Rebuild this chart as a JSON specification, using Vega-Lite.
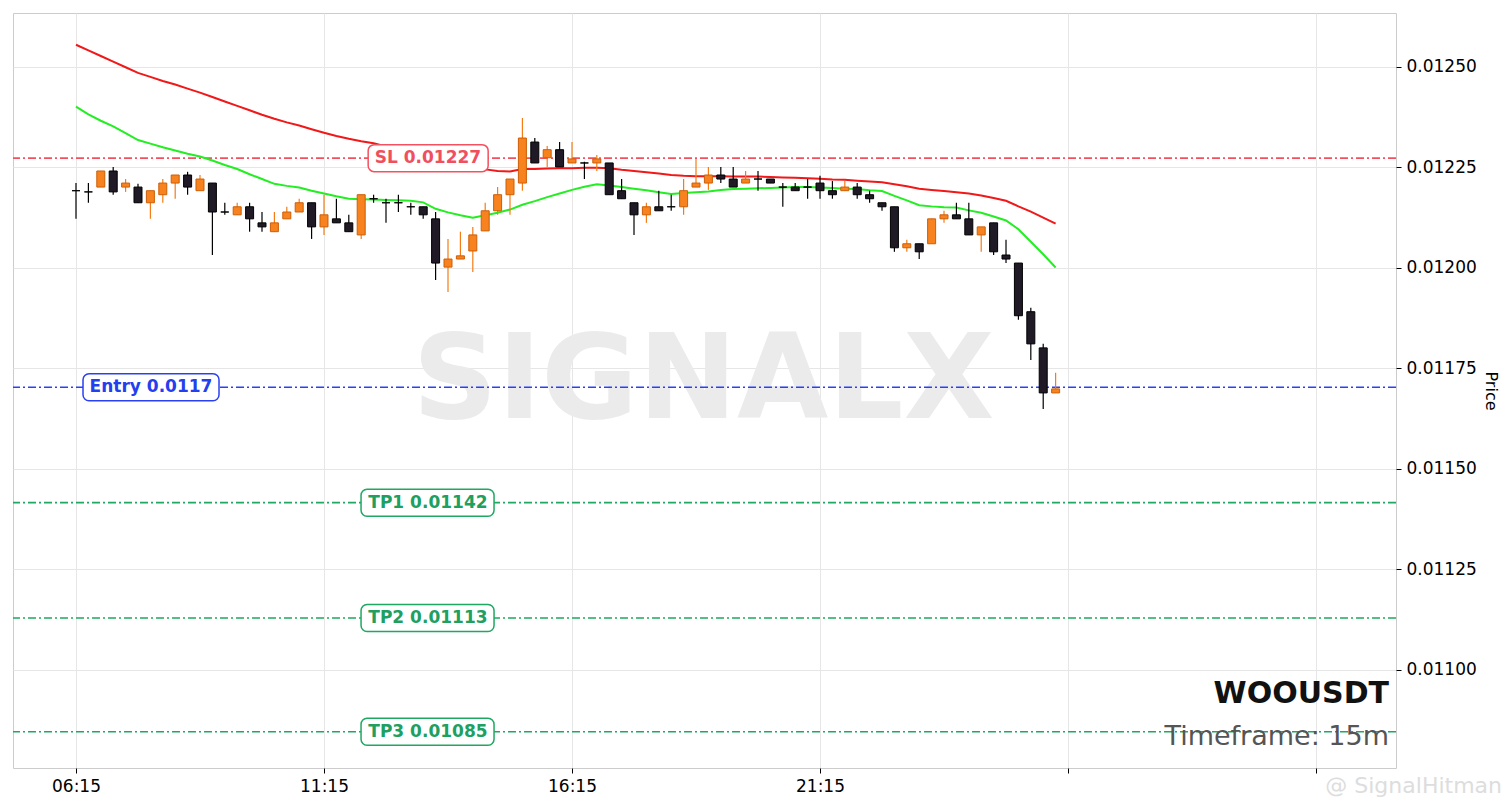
{
  "$schema": "https://vega.github.io/schema/vega-lite/v6.json",
  "width": 1383,
  "height": 755,
  "padding": {"left": 12, "top": 13, "right": 5, "bottom": 5},
  "background": "white",
  "config": {
    "font": "DejaVu Sans",
    "view": {"stroke": "#cccccc", "strokeWidth": 1},
    "scale": {"continuousPadding": 0},
    "axis": {
      "gridColor": "#e6e6e6",
      "gridWidth": 1,
      "domain": false,
      "tickColor": "#000000",
      "tickSize": 5,
      "labelFont": "DejaVu Sans",
      "labelFontSize": 17,
      "labelColor": "#000000",
      "titleFont": "DejaVu Sans",
      "titleFontSize": 16,
      "titleFontWeight": "normal",
      "titleColor": "#000000"
    }
  },
  "datasets": {
    "candles": [
      {"i": 0, "o": 0.012192, "h": 0.012211, "l": 0.012122, "c": 0.012192, "s": 0.012555, "f": 0.012401},
      {"i": 1, "o": 0.012189, "h": 0.012211, "l": 0.012162, "c": 0.012189, "s": 0.012541, "f": 0.012382},
      {"i": 2, "o": 0.012201, "h": 0.012241, "l": 0.012201, "c": 0.012241, "s": 0.012527, "f": 0.012366},
      {"i": 3, "o": 0.012241, "h": 0.012251, "l": 0.012182, "c": 0.012189, "s": 0.012513, "f": 0.012352},
      {"i": 4, "o": 0.012201, "h": 0.012221, "l": 0.012189, "c": 0.012211, "s": 0.012499, "f": 0.012335},
      {"i": 5, "o": 0.012201, "h": 0.012209, "l": 0.012162, "c": 0.012162, "s": 0.012485, "f": 0.012318},
      {"i": 6, "o": 0.012162, "h": 0.012192, "l": 0.012122, "c": 0.012192, "s": 0.012475, "f": 0.012309},
      {"i": 7, "o": 0.012182, "h": 0.012221, "l": 0.012162, "c": 0.012211, "s": 0.012465, "f": 0.0123},
      {"i": 8, "o": 0.012211, "h": 0.012231, "l": 0.012172, "c": 0.012231, "s": 0.012456, "f": 0.012292},
      {"i": 9, "o": 0.012231, "h": 0.012239, "l": 0.012182, "c": 0.012201, "s": 0.012446, "f": 0.012284},
      {"i": 10, "o": 0.012192, "h": 0.012231, "l": 0.012192, "c": 0.012221, "s": 0.012436, "f": 0.012277},
      {"i": 11, "o": 0.012211, "h": 0.012211, "l": 0.012032, "c": 0.012139, "s": 0.012425, "f": 0.012267},
      {"i": 12, "o": 0.012139, "h": 0.012162, "l": 0.012132, "c": 0.012139, "s": 0.012414, "f": 0.012256},
      {"i": 13, "o": 0.012132, "h": 0.012162, "l": 0.012132, "c": 0.012152, "s": 0.012403, "f": 0.012246},
      {"i": 14, "o": 0.012152, "h": 0.012162, "l": 0.01209, "c": 0.012122, "s": 0.012392, "f": 0.012233},
      {"i": 15, "o": 0.012112, "h": 0.012139, "l": 0.01209, "c": 0.012102, "s": 0.012381, "f": 0.012221},
      {"i": 16, "o": 0.01209, "h": 0.012139, "l": 0.01209, "c": 0.012112, "s": 0.012371, "f": 0.012209},
      {"i": 17, "o": 0.012122, "h": 0.012152, "l": 0.012122, "c": 0.012139, "s": 0.012362, "f": 0.012204},
      {"i": 18, "o": 0.012139, "h": 0.012172, "l": 0.012139, "c": 0.012162, "s": 0.012354, "f": 0.0122},
      {"i": 19, "o": 0.012162, "h": 0.012162, "l": 0.012072, "c": 0.012102, "s": 0.012345, "f": 0.012192},
      {"i": 20, "o": 0.012102, "h": 0.012182, "l": 0.012082, "c": 0.012132, "s": 0.012336, "f": 0.012185},
      {"i": 21, "o": 0.012122, "h": 0.012172, "l": 0.012112, "c": 0.012112, "s": 0.012328, "f": 0.012178},
      {"i": 22, "o": 0.012112, "h": 0.012132, "l": 0.01209, "c": 0.01209, "s": 0.012321, "f": 0.012172},
      {"i": 23, "o": 0.012082, "h": 0.012182, "l": 0.012072, "c": 0.012182, "s": 0.012315, "f": 0.012171},
      {"i": 24, "o": 0.012172, "h": 0.012182, "l": 0.012162, "c": 0.012172, "s": 0.01231, "f": 0.01217},
      {"i": 25, "o": 0.012162, "h": 0.012172, "l": 0.012112, "c": 0.012162, "s": 0.012302, "f": 0.012169},
      {"i": 26, "o": 0.012162, "h": 0.012182, "l": 0.012139, "c": 0.012162, "s": 0.012295, "f": 0.012168},
      {"i": 27, "o": 0.012152, "h": 0.012162, "l": 0.012132, "c": 0.012152, "s": 0.012287, "f": 0.012167},
      {"i": 28, "o": 0.012152, "h": 0.012152, "l": 0.012122, "c": 0.012132, "s": 0.01228, "f": 0.012163},
      {"i": 29, "o": 0.012122, "h": 0.012139, "l": 0.01197, "c": 0.012012, "s": 0.012272, "f": 0.012147},
      {"i": 30, "o": 0.012002, "h": 0.012072, "l": 0.01194, "c": 0.012022, "s": 0.012265, "f": 0.012138},
      {"i": 31, "o": 0.012022, "h": 0.01209, "l": 0.012022, "c": 0.01203, "s": 0.012257, "f": 0.012131},
      {"i": 32, "o": 0.012042, "h": 0.012102, "l": 0.01199, "c": 0.012082, "s": 0.012251, "f": 0.012125},
      {"i": 33, "o": 0.012092, "h": 0.012162, "l": 0.012092, "c": 0.012142, "s": 0.012245, "f": 0.012131},
      {"i": 34, "o": 0.012142, "h": 0.012201, "l": 0.012132, "c": 0.012182, "s": 0.012241, "f": 0.012137},
      {"i": 35, "o": 0.012182, "h": 0.012221, "l": 0.012132, "c": 0.012221, "s": 0.01224, "f": 0.012145},
      {"i": 36, "o": 0.012211, "h": 0.012373, "l": 0.012192, "c": 0.012323, "s": 0.012246, "f": 0.012157},
      {"i": 37, "o": 0.012313, "h": 0.012323, "l": 0.012261, "c": 0.012261, "s": 0.012246, "f": 0.012166},
      {"i": 38, "o": 0.012274, "h": 0.012303, "l": 0.012251, "c": 0.012294, "s": 0.012247, "f": 0.012176},
      {"i": 39, "o": 0.012294, "h": 0.012313, "l": 0.012251, "c": 0.012251, "s": 0.012248, "f": 0.012185},
      {"i": 40, "o": 0.012261, "h": 0.012313, "l": 0.012261, "c": 0.012271, "s": 0.012248, "f": 0.012194},
      {"i": 41, "o": 0.012261, "h": 0.012264, "l": 0.012221, "c": 0.012261, "s": 0.012249, "f": 0.012202},
      {"i": 42, "o": 0.012261, "h": 0.012281, "l": 0.012241, "c": 0.012271, "s": 0.012249, "f": 0.012208},
      {"i": 43, "o": 0.012261, "h": 0.012261, "l": 0.012182, "c": 0.012182, "s": 0.012248, "f": 0.012205},
      {"i": 44, "o": 0.012192, "h": 0.012221, "l": 0.012172, "c": 0.012172, "s": 0.012244, "f": 0.012201},
      {"i": 45, "o": 0.012162, "h": 0.012162, "l": 0.012082, "c": 0.012132, "s": 0.012241, "f": 0.012197},
      {"i": 46, "o": 0.012132, "h": 0.012162, "l": 0.012112, "c": 0.012152, "s": 0.012238, "f": 0.012193},
      {"i": 47, "o": 0.012152, "h": 0.012192, "l": 0.012142, "c": 0.012142, "s": 0.012235, "f": 0.012188},
      {"i": 48, "o": 0.012152, "h": 0.012182, "l": 0.012142, "c": 0.012152, "s": 0.012231, "f": 0.012184},
      {"i": 49, "o": 0.012152, "h": 0.012221, "l": 0.012132, "c": 0.012192, "s": 0.012229, "f": 0.012186},
      {"i": 50, "o": 0.012201, "h": 0.012271, "l": 0.012201, "c": 0.012211, "s": 0.012228, "f": 0.012188},
      {"i": 51, "o": 0.012211, "h": 0.012251, "l": 0.012194, "c": 0.012231, "s": 0.012228, "f": 0.01219},
      {"i": 52, "o": 0.012231, "h": 0.012251, "l": 0.012211, "c": 0.012221, "s": 0.012228, "f": 0.012194},
      {"i": 53, "o": 0.012221, "h": 0.012251, "l": 0.012201, "c": 0.012201, "s": 0.012227, "f": 0.012196},
      {"i": 54, "o": 0.012211, "h": 0.012241, "l": 0.012211, "c": 0.012221, "s": 0.012227, "f": 0.012197},
      {"i": 55, "o": 0.012221, "h": 0.012241, "l": 0.012192, "c": 0.012221, "s": 0.012227, "f": 0.012198},
      {"i": 56, "o": 0.012221, "h": 0.012221, "l": 0.012211, "c": 0.012211, "s": 0.012226, "f": 0.012199},
      {"i": 57, "o": 0.012201, "h": 0.012211, "l": 0.012152, "c": 0.012201, "s": 0.012225, "f": 0.0122},
      {"i": 58, "o": 0.012201, "h": 0.012211, "l": 0.012192, "c": 0.012192, "s": 0.012224, "f": 0.012201},
      {"i": 59, "o": 0.012201, "h": 0.012221, "l": 0.012172, "c": 0.012201, "s": 0.012223, "f": 0.012201},
      {"i": 60, "o": 0.012211, "h": 0.012229, "l": 0.012172, "c": 0.012192, "s": 0.012222, "f": 0.0122},
      {"i": 61, "o": 0.012192, "h": 0.012216, "l": 0.012172, "c": 0.012182, "s": 0.01222, "f": 0.012199},
      {"i": 62, "o": 0.012192, "h": 0.012216, "l": 0.012192, "c": 0.012201, "s": 0.012219, "f": 0.012197},
      {"i": 63, "o": 0.012201, "h": 0.012211, "l": 0.012172, "c": 0.012182, "s": 0.012217, "f": 0.012196},
      {"i": 64, "o": 0.012182, "h": 0.012192, "l": 0.012162, "c": 0.012172, "s": 0.012215, "f": 0.012193},
      {"i": 65, "o": 0.012162, "h": 0.012162, "l": 0.012142, "c": 0.012152, "s": 0.012213, "f": 0.012191},
      {"i": 66, "o": 0.012152, "h": 0.012152, "l": 0.01204, "c": 0.01205, "s": 0.012208, "f": 0.012179},
      {"i": 67, "o": 0.01205, "h": 0.01207, "l": 0.01204, "c": 0.01206, "s": 0.012203, "f": 0.012168},
      {"i": 68, "o": 0.01206, "h": 0.01206, "l": 0.012022, "c": 0.01204, "s": 0.012197, "f": 0.012156},
      {"i": 69, "o": 0.01206, "h": 0.012122, "l": 0.01206, "c": 0.012122, "s": 0.012194, "f": 0.012153},
      {"i": 70, "o": 0.012122, "h": 0.012142, "l": 0.012112, "c": 0.012132, "s": 0.012191, "f": 0.012151},
      {"i": 71, "o": 0.012132, "h": 0.012162, "l": 0.012122, "c": 0.012122, "s": 0.012188, "f": 0.01215},
      {"i": 72, "o": 0.012122, "h": 0.012162, "l": 0.012082, "c": 0.012082, "s": 0.012185, "f": 0.012143},
      {"i": 73, "o": 0.012082, "h": 0.012102, "l": 0.01204, "c": 0.012102, "s": 0.01218, "f": 0.012137},
      {"i": 74, "o": 0.012112, "h": 0.012112, "l": 0.012032, "c": 0.01204, "s": 0.012174, "f": 0.012128},
      {"i": 75, "o": 0.012032, "h": 0.01207, "l": 0.012012, "c": 0.012022, "s": 0.012167, "f": 0.012118},
      {"i": 76, "o": 0.012012, "h": 0.012012, "l": 0.011871, "c": 0.011881, "s": 0.012153, "f": 0.012096},
      {"i": 77, "o": 0.011891, "h": 0.011901, "l": 0.011771, "c": 0.011811, "s": 0.01214, "f": 0.012065},
      {"i": 78, "o": 0.011801, "h": 0.011811, "l": 0.011649, "c": 0.011689, "s": 0.012125, "f": 0.012034},
      {"i": 79, "o": 0.011689, "h": 0.011739, "l": 0.011689, "c": 0.011699, "s": 0.01211, "f": 0.012001}
    ],
    "levels": [
      {"kind": "SL", "price": 0.012273, "label": "SL 0.01227"},
      {"kind": "Entry", "price": 0.011703, "label": "Entry 0.0117"},
      {"kind": "TP", "price": 0.011416, "label": "TP1 0.01142"},
      {"kind": "TP", "price": 0.011129, "label": "TP2 0.01113"},
      {"kind": "TP", "price": 0.010846, "label": "TP3 0.01085"}
    ],
    "notes": [
      {"t": "SIGNALX"}
    ]
  },
  "layer": [
    {
      "data": {"name": "notes"},
      "mark": {"type": "text", "font": "DejaVu Sans", "fontWeight": "bold", "fontSize": 118, "color": "#ebebeb", "align": "center", "baseline": "middle"},
      "encoding": {
        "x": {"datum": 50.6, "type": "quantitative", "scale": {"domain": [-5.08, 106.45], "nice": false, "zero": false, "padding": 0},
          "axis": {"values": [0, 20, 40, 60, 80, 100], "title": null, "labelPadding": 5, "grid": true,
            "labelExpr": "['06:15','11:15','16:15','21:15','',''][round(datum.value / 20)]"}},
        "y": {"datum": 0.011714, "type": "quantitative", "scale": {"domain": [0.010756, 0.012634], "nice": false, "zero": false, "padding": 0},
          "axis": {"orient": "right", "values": [0.011, 0.01125, 0.0115, 0.01175, 0.012, 0.01225, 0.0125], "format": ".5f", "title": "Price", "labelPadding": 5, "titlePadding": 6, "grid": true}},
        "text": {"field": "t"}
      }
    },
    {
      "data": {"name": "levels"},
      "mark": {"type": "rule", "strokeWidth": 1.6, "strokeDash": [8, 3, 2, 3]},
      "encoding": {
        "y": {"field": "price", "type": "quantitative"},
        "stroke": {"field": "kind", "type": "nominal", "legend": null,
          "scale": {"domain": ["SL", "Entry", "TP"], "range": ["#f5505f", "#2a40f5", "#1fa862"]}}
      }
    },
    {
      "data": {"name": "candles"},
      "mark": {"type": "line", "color": "#f01818", "strokeWidth": 2},
      "encoding": {"x": {"field": "i", "type": "quantitative"}, "y": {"field": "s", "type": "quantitative"}}
    },
    {
      "data": {"name": "candles"},
      "mark": {"type": "line", "color": "#22ee22", "strokeWidth": 2},
      "encoding": {"x": {"field": "i", "type": "quantitative"}, "y": {"field": "f", "type": "quantitative"}}
    },
    {
      "data": {"name": "candles"},
      "mark": {"type": "rule", "strokeWidth": 1.2},
      "encoding": {
        "x": {"field": "i", "type": "quantitative"},
        "y": {"field": "l", "type": "quantitative"},
        "y2": {"field": "h"},
        "stroke": {"condition": {"test": "datum.c > datum.o", "value": "#f57c14"}, "value": "#000000"}
      }
    },
    {
      "data": {"name": "candles"},
      "mark": {"type": "bar", "width": 8, "strokeWidth": 1},
      "encoding": {
        "x": {"field": "i", "type": "quantitative"},
        "y": {"field": "o", "type": "quantitative"},
        "y2": {"field": "c"},
        "fill": {"condition": {"test": "datum.c > datum.o", "value": "#f7821e"}, "value": "#1f1a26"},
        "stroke": {"condition": {"test": "datum.c > datum.o", "value": "#cc5f08"}, "value": "#000000"}
      }
    },
    {
      "data": {"name": "levels"},
      "transform": [{"filter": "datum.kind == 'SL'"}],
      "mark": {"type": "rect", "width": 120, "height": 27, "fill": "white", "strokeWidth": 1.5, "cornerRadius": 6},
      "encoding": {
        "x": {"datum": 28.4, "type": "quantitative"},
        "y": {"field": "price", "type": "quantitative"},
        "stroke": {"field": "kind", "type": "nominal", "legend": null}
      }
    },
    {
      "data": {"name": "levels"},
      "transform": [{"filter": "datum.kind == 'Entry'"}],
      "mark": {"type": "rect", "width": 136, "height": 27, "fill": "white", "strokeWidth": 1.5, "cornerRadius": 6},
      "encoding": {
        "x": {"datum": 6.05, "type": "quantitative"},
        "y": {"field": "price", "type": "quantitative"},
        "stroke": {"field": "kind", "type": "nominal", "legend": null}
      }
    },
    {
      "data": {"name": "levels"},
      "transform": [{"filter": "datum.kind == 'TP'"}],
      "mark": {"type": "rect", "width": 133, "height": 27, "fill": "white", "strokeWidth": 1.5, "cornerRadius": 6},
      "encoding": {
        "x": {"datum": 28.35, "type": "quantitative"},
        "y": {"field": "price", "type": "quantitative"},
        "stroke": {"field": "kind", "type": "nominal", "legend": null}
      }
    },
    {
      "data": {"name": "levels"},
      "transform": [{"filter": "datum.kind != 'Entry'"}],
      "mark": {"type": "text", "font": "DejaVu Sans", "fontWeight": "bold", "fontSize": 17, "align": "center", "baseline": "middle"},
      "encoding": {
        "x": {"datum": 28.38, "type": "quantitative"},
        "y": {"field": "price", "type": "quantitative"},
        "text": {"field": "label"},
        "color": {"field": "kind", "type": "nominal", "legend": null,
          "scale": {"domain": ["SL", "Entry", "TP"], "range": ["#f0505e", "#2440ee", "#20a060"]}}
      }
    },
    {
      "data": {"name": "levels"},
      "transform": [{"filter": "datum.kind == 'Entry'"}],
      "mark": {"type": "text", "font": "DejaVu Sans", "fontWeight": "bold", "fontSize": 17, "align": "center", "baseline": "middle"},
      "encoding": {
        "x": {"datum": 6.05, "type": "quantitative"},
        "y": {"field": "price", "type": "quantitative"},
        "text": {"field": "label"},
        "color": {"field": "kind", "type": "nominal", "legend": null}
      }
    },
    {
      "data": {"values": [{"t": "WOOUSDT"}]},
      "mark": {"type": "text", "font": "DejaVu Sans", "fontWeight": "bold", "fontSize": 30, "color": "#111111", "align": "right", "baseline": "middle", "dx": -7},
      "encoding": {
        "x": {"datum": 106.45, "type": "quantitative"},
        "y": {"datum": 0.01094, "type": "quantitative"},
        "text": {"field": "t"}
      }
    },
    {
      "data": {"values": [{"t": "Timeframe: 15m"}]},
      "mark": {"type": "text", "font": "DejaVu Sans", "fontSize": 27, "color": "#555555", "align": "right", "baseline": "middle", "dx": -7},
      "encoding": {
        "x": {"datum": 106.45, "type": "quantitative"},
        "y": {"datum": 0.010833, "type": "quantitative"},
        "text": {"field": "t"}
      }
    },
    {
      "data": {"values": [{"t": "@ SignalHitman"}]},
      "mark": {"type": "text", "font": "DejaVu Sans", "fontSize": 22, "color": "#dddddd", "align": "right", "baseline": "middle", "clip": false},
      "encoding": {
        "x": {"datum": 115, "type": "quantitative"},
        "y": {"datum": 0.010712, "type": "quantitative"},
        "text": {"field": "t"}
      }
    }
  ]
}
